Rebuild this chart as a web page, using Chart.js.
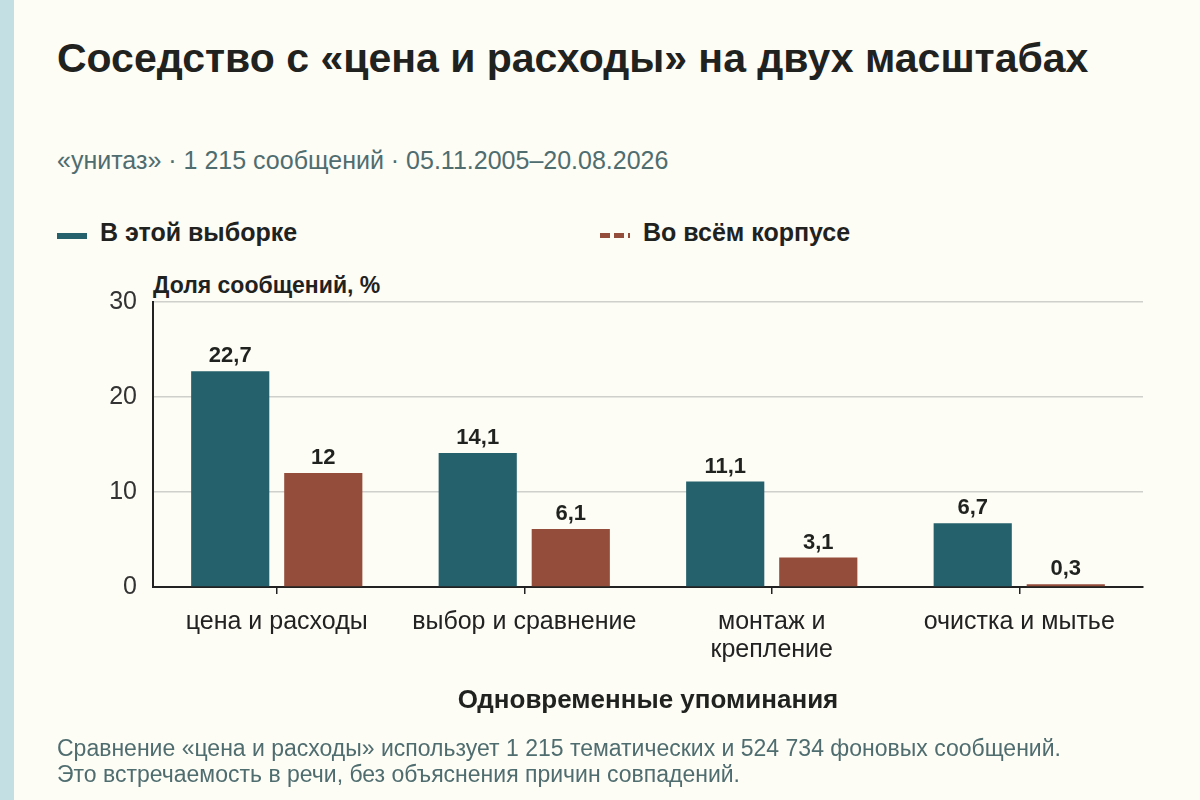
<!DOCTYPE html>
<html lang="ru">
<head>
<meta charset="utf-8">
<title>Соседство с «цена и расходы» на двух масштабах</title>
<script src="https://cdn.jsdelivr.net/npm/chart.js@4.4.1/dist/chart.umd.min.js"></script>
<style>
    html, body {
        margin: 0;
        padding: 0;
        width: 1200px;
        height: 800px;
        overflow: hidden;
        background: #fdfcf5;
        font-family: "Liberation Sans", Arial, sans-serif;
        color: #222;
    }
    #stripe {
        position: absolute;
        left: 0; top: 0;
        width: 14px; height: 800px;
        background: #c3dfe3;
    }
    .txt {
        position: absolute;
        white-space: nowrap;
    }
    #title {
        left: 57px; top: 34px;
        font-size: 41px; line-height: 48px;
        font-weight: bold;
        color: #1f221e;
    }
    #subtitle {
        left: 57px; top: 145px;
        font-size: 25px; line-height: 30px;
        color: #4f6d6f;
    }
    .legend-item {
        position: absolute;
        top: 217px;
        height: 30px;
        font-size: 25px; line-height: 30px;
        font-weight: bold;
        color: #1f221e;
    }
    .legend-item .mark {
        position: absolute;
        left: 0; top: 16px;
        width: 30px; height: 6px;
    }
    .legend-item .label {
        position: absolute;
        left: 43px; top: 0;
        white-space: nowrap;
    }
    #ytitle {
        left: 153px; top: 271px;
        font-size: 23px; line-height: 28px;
        font-weight: bold;
        color: #1f221e;
    }
    #notes {
        left: 57px; top: 735px;
        font-size: 23px; line-height: 26px;
        color: #4f6d6f;
    }
    #wrap {
        position: absolute;
        left: 0; top: 0;
        width: 1200px; height: 800px;
    }
</style>
</head>
<body>
<div id="stripe"></div>
<div class="txt" id="title">Соседство с «цена и расходы» на двух масштабах</div>
<div class="txt" id="subtitle">«унитаз» · 1 215 сообщений · 05.11.2005–20.08.2026</div>
<div id="legend"></div>
<div class="txt" id="ytitle">Доля сообщений, %</div>
<div id="wrap"><canvas id="chart"></canvas></div>
<div class="txt" id="notes">Сравнение «цена и расходы» использует 1 215 тематических и 524 734 фоновых сообщений.<br>Это встречаемость в речи, без объяснения причин совпадений.</div>

<script>
// Дані графіка
const categories = ['цена и расходы', 'выбор и сравнение', ['монтаж и', 'крепление'], 'очистка и мытье'];
const sampleValues = [22.7, 14.1, 11.1, 6.7];
const corpusValues = [12, 6.1, 3.1, 0.3];
const seriesNames = ['В этой выборке', 'Во всём корпусе'];
const seriesColors = ['#25616d', '#954d3b'];
const yTicks = [0, 10, 20, 30];

const xTitle = 'Одновременные упоминания';
const FONT = '"Liberation Sans", Arial, sans-serif';

// Легенда (HTML), друга позначка пунктирна
function buildLegend() {
    const legend = document.getElementById('legend');
    const lefts = [57, 600];
    seriesNames.forEach((name, i) => {
        const item = document.createElement('div');
        item.className = 'legend-item';
        item.style.left = lefts[i] + 'px';
        const mark = document.createElement('div');
        mark.className = 'mark';
        if (i === 0) {
            mark.style.background = seriesColors[i];
        } else {
            mark.style.background = `repeating-linear-gradient(90deg, ${seriesColors[i]} 0 10px, transparent 10px 14px)`;
            mark.style.height = '5px';
        }
        const label = document.createElement('div');
        label.className = 'label';
        label.textContent = name;
        item.appendChild(mark);
        item.appendChild(label);
        legend.appendChild(item);
    });
}

// Підписи значень над стовпчиками
const valueLabels = {
    id: 'valueLabels',
    afterDatasetsDraw(chart) {
        const ctx = chart.ctx;
        ctx.save();
        ctx.font = 'bold 22px ' + FONT;
        ctx.fillStyle = '#1f221e';
        ctx.textAlign = 'center';
        ctx.textBaseline = 'bottom';
        chart.data.datasets.forEach((ds, di) => {
            chart.getDatasetMeta(di).data.forEach((bar, i) => {
                const text = String(ds.data[i]).replace('.', ',');
                ctx.fillText(text, bar.x, bar.y - 4);
            });
        });
        ctx.restore();
    }
};

function createChart() {
    const ctx = document.getElementById('chart').getContext('2d');
    return new Chart(ctx, {
        type: 'bar',
        data: {
            labels: categories,
            datasets: [{
                label: seriesNames[0],
                data: sampleValues,
                backgroundColor: seriesColors[0],
                categoryPercentage: 0.752,
                barPercentage: 0.84
            }, {
                label: seriesNames[1],
                data: corpusValues,
                backgroundColor: seriesColors[1],
                categoryPercentage: 0.752,
                barPercentage: 0.84
            }]
        },
        options: {
            responsive: true,
            maintainAspectRatio: false,
            animation: false,
            layout: {
                padding: { top: 302, right: 57, bottom: 70, left: 0 }
            },
            plugins: {
                legend: { display: false },
                tooltip: { enabled: false }
            },
            scales: {
                x: {
                    grid: {
                        offset: false,
                        drawOnChartArea: false,
                        drawTicks: true,
                        tickLength: 7,
                        color: '#222',
                        lineWidth: 1.5
                    },
                    border: { display: true, color: '#222', width: 2 },
                    ticks: {
                        color: '#222',
                        font: { family: FONT, size: 25, lineHeight: 1.12 },
                        padding: 14,
                        maxRotation: 0
                    },
                    title: {
                        display: true,
                        text: xTitle,
                        color: '#1f221e',
                        font: { family: FONT, size: 26, weight: 'bold' },
                        padding: { top: 14, bottom: 14 }
                    },
                    afterFit(scale) { scale.height = 143; }
                },
                y: {
                    min: 0,
                    max: 30,
                    afterBuildTicks(scale) {
                        scale.ticks = yTicks.map(v => ({ value: v }));
                    },
                    grid: {
                        drawTicks: false,
                        color: c => c.tick.value === 0 ? 'rgba(0,0,0,0)' : '#cfcfcb',
                        lineWidth: 1.5
                    },
                    border: { display: true, color: '#222', width: 2 },
                    ticks: {
                        color: '#333',
                        font: { family: FONT, size: 25 },
                        padding: 16
                    },
                    afterFit(scale) { scale.width = 153; }
                }
            }
        },
        plugins: [valueLabels]
    });
}

buildLegend();
createChart();
</script>
</body>
</html>
